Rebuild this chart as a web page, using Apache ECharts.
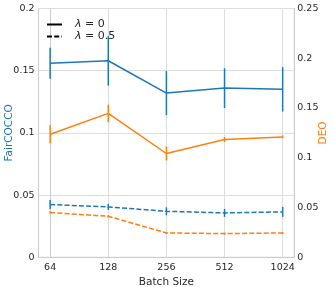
<!DOCTYPE html>
<html><head><meta charset="utf-8">
<script src="https://cdn.jsdelivr.net/npm/echarts@6/dist/echarts.min.js"></script>
<style>html,body{margin:0;padding:0;background:#fff}#c{width:333px;height:287px}</style>
</head><body><div id="c"></div>
<script>
const batchSizes = ['64', '128', '256', '512', '1024'];
const fairLam0 = [0.156, 0.158, 0.132, 0.136, 0.135];
const fairLam0Err = [0.0124, 0.020, 0.0177, 0.016, 0.0178];
const deoLam0 = [0.1237, 0.1446, 0.1043, 0.1184, 0.121];
const deoLam0Err = [0.0092, 0.0088, 0.007, 0.0025, 0.0015];
const fairLam05 = [0.0424, 0.0405, 0.037, 0.0357, 0.0365];
const fairLam05Err = [0.0036, 0.0024, 0.0032, 0.0032, 0.004];
const deoLam05 = [0.045, 0.0412, 0.0245, 0.0238, 0.0245];
const deoLam05Err = [0.0012, 0.0012, 0.001, 0.001, 0.001];
const leftTicks = [0, 0.05, 0.1, 0.15, 0.2];
const rightTicks = [0, 0.05, 0.1, 0.15, 0.2, 0.25];

const BLUE = '#1f77b4', ORANGE = '#ff7f0e';
const FONT = 'DejaVu Sans';
const xIdx = batchSizes.map((_, i) => i);

function pts(vals) { return vals.map((v, i) => [i, v]); }
function errData(vals, errs) { return vals.map((v, i) => [i, v - errs[i], v + errs[i]]); }
function errSeries(vals, errs, yAxisIndex, color) {
  return {
    type: 'custom', yAxisIndex: yAxisIndex, silent: true, z: 3,
    data: errData(vals, errs),
    renderItem: function (params, api) {
      const a = api.coord([api.value(0), api.value(1)]);
      const b = api.coord([api.value(0), api.value(2)]);
      return { type: 'line', shape: { x1: a[0], y1: a[1], x2: b[0], y2: b[1] },
        style: { stroke: color, lineWidth: 1.5 } };
    }
  };
}
function lineSeries(name, vals, yAxisIndex, color, dashed) {
  return {
    name: name, type: 'line', yAxisIndex: yAxisIndex, data: pts(vals),
    symbol: 'none', z: 4, silent: true,
    lineStyle: { color: color, width: 1.5, type: dashed ? [5, 2.2] : 'solid' },
    itemStyle: { color: color }
  };
}

const chart = echarts.init(document.getElementById('c'), null, { renderer: 'canvas' });
chart.setOption({
  animation: false,
  backgroundColor: '#fff',
  grid: { left: 38.5, right: 38.7, top: 8.5, bottom: 29.7, outerBoundsMode: 'none', containLabel: false,
    show: true, borderColor: '#cccccc', borderWidth: 1, backgroundColor: 'transparent' },
  legend: {
    orient: 'vertical', left: 41, top: 14, itemWidth: 15, itemHeight: 10, itemGap: 1,
    data: ['lam0', 'lam05'],
    itemStyle: { opacity: 0 },
    formatter: function (n) { return n === 'lam0' ? '{i|λ} = 0' : '{i|λ} = 0.5'; },
    textStyle: { fontFamily: FONT, fontSize: 11, color: '#262626', padding: [0, 0, 0, 8],
      rich: { i: { fontStyle: 'italic', fontFamily: FONT, fontSize: 11, color: '#262626' } } }
  },
  xAxis: {
    type: 'value', min: -0.2, max: 4.2,
    name: 'Batch Size', nameLocation: 'middle', nameGap: 19, nameMoveOverlap: false,
    nameTextStyle: { fontFamily: FONT, fontSize: 10.5, color: '#262626' },
    axisLine: { show: true, lineStyle: { color: '#cccccc' } },
    axisTick: { show: false, customValues: xIdx },
    axisLabel: { customValues: xIdx, formatter: function (v) { return batchSizes[Math.round(v)]; },
      fontFamily: FONT, fontSize: 9.5, color: '#262626', margin: 5 },
    splitLine: { show: true, lineStyle: { color: '#dddddd', width: 1 } }
  },
  yAxis: [
    { type: 'value', min: 0, max: 0.2, interval: 0.05, position: 'left',
      name: 'FairCOCCO', nameLocation: 'middle', nameGap: 24, nameMoveOverlap: false,
      nameTextStyle: { fontFamily: FONT, fontSize: 10.5, color: BLUE },
      axisLine: { show: true, lineStyle: { color: '#cccccc' } }, axisTick: { show: false },
      axisLabel: { fontFamily: FONT, fontSize: 9.5, color: '#262626', margin: 4,
        formatter: function (v) { const t = leftTicks.find(x => Math.abs(x - v) < 1e-9); return String(t !== undefined ? t : v); } },
      splitLine: { show: true, lineStyle: { color: '#dddddd', width: 1 } } },
    { type: 'value', min: 0, max: 0.25, interval: 0.05, position: 'right',
      name: 'DEO', nameLocation: 'middle', nameGap: 23, nameMoveOverlap: false,
      nameTextStyle: { fontFamily: FONT, fontSize: 10.5, color: ORANGE },
      axisLine: { show: true, lineStyle: { color: '#cccccc' } }, axisTick: { show: false },
      axisLabel: { fontFamily: FONT, fontSize: 9.5, color: '#262626', margin: 3,
        formatter: function (v) { const t = rightTicks.find(x => Math.abs(x - v) < 1e-9); return String(t !== undefined ? t : v); } },
      splitLine: { show: false } }
  ],
  series: [
    lineSeries('lam0', [], 0, '#000000', false),
    lineSeries('lam05', [], 0, '#000000', true),
    lineSeries('fair0', fairLam0, 0, BLUE, false),
    errSeries(fairLam0, fairLam0Err, 0, BLUE),
    lineSeries('deo0', deoLam0, 1, ORANGE, false),
    errSeries(deoLam0, deoLam0Err, 1, ORANGE),
    lineSeries('fair05', fairLam05, 0, BLUE, true),
    errSeries(fairLam05, fairLam05Err, 0, BLUE),
    lineSeries('deo05', deoLam05, 1, ORANGE, true),
    errSeries(deoLam05, deoLam05Err, 1, ORANGE)
  ]
});
</script></body></html>
